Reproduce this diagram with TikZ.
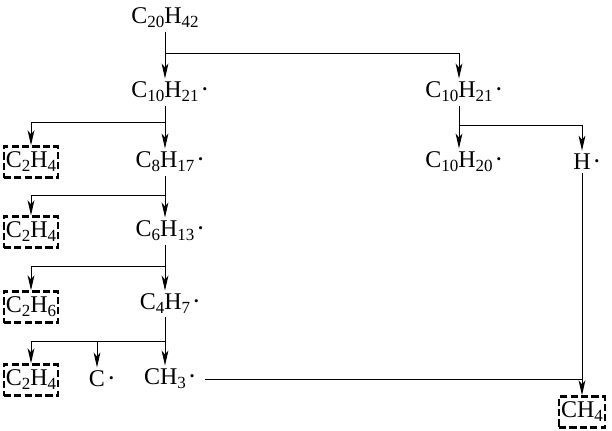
\documentclass[tikz,border=0pt]{standalone}
\usepackage{fontspec}
\setmainfont{Liberation Serif}
\usetikzlibrary{arrows.meta}

\newcommand{\sub}[1]{\raisebox{-2pt}{\fontsize{8.5}{9}\selectfont #1}}
\newcommand{\rad}{\rlap{\hspace{2pt}\raisebox{0.4ex}{\fontsize{6.5}{6}\selectfont\textbullet}}}

\begin{document}
\begin{tikzpicture}[x=0.5pt, y=-0.5pt, line width=0.5pt,
    >={Stealth[length=7.5pt, width=3.4pt, inset=2pt]},
    every node/.style={font=\fontsize{12}{14}\selectfont, inner sep=1.5pt},
    product/.style={draw, line width=1.2pt, dash pattern=on 3.6pt off 1.6pt,
      minimum height=15.5pt, inner xsep=1pt, inner ysep=1.5pt}]
      \useasboundingbox (0, 0) rectangle (612, 430);

      % Molecules
      \node (c20) at (165, 18) {C\sub{20}H\sub{42}};
      \node (c10a) at (165, 92) {C\sub{10}H\sub{21}\rad};
      \node (c8) at (165, 162) {C\sub{8}H\sub{17}\rad};
      \node (c6) at (165, 231) {C\sub{6}H\sub{13}\rad};
      \node (c4) at (165, 304) {C\sub{4}H\sub{7}\rad};
      \node (ch3) at (165, 379) {CH\sub{3}\rad};
      \node (crad) at (97, 379) {C\rad};
      \node (c10b) at (459, 92) {C\sub{10}H\sub{21}\rad};
      \node (c10c) at (459, 162) {C\sub{10}H\sub{20}\rad};
      \node (hrad) at (582, 162) {H\rad};

      % Products
      \node[product] (c2a) at (31, 162) {C\sub{2}H\sub{4}};
      \node[product] (c2b) at (31, 232) {C\sub{2}H\sub{4}};
      \node[product] (c2c) at (31, 307) {C\sub{2}H\sub{6}};
      \node[product] (c2d) at (31, 380) {C\sub{2}H\sub{4}};
      \node[product] (ch4) at (582, 412) {CH\sub{4}};

      % Branch points
      \coordinate (j1) at (165, 53);
      \coordinate (j2) at (165, 122);
      \coordinate (j3) at (165, 195);
      \coordinate (j4) at (165, 266);
      \coordinate (j5) at (165, 341);
      \coordinate (j6) at (459, 125);

      % Main chain
      \draw[->] (c20) -- (c10a);
      \draw[->] (c10a) -- (c8);
      \draw[->] (c8) -- (c6);
      \draw[->] (c6) -- (c4);
      \draw[->] (c4) -- (ch3);

      % Side branches
      \draw[->] (j1) -| (c10b);
      \draw[->] (j2) -| (c2a);
      \draw[->] (j3) -| (c2b);
      \draw[->] (j4) -| (c2c);
      \draw[->] (j5) -| (c2d);
      \draw[->] (crad |- j5) -- (crad);
      \draw[->] (c10b) -- (c10c);
      \draw[->] (j6) -| (hrad);

      % Recombination
      \draw[->] (hrad) -- (ch4);
      \draw ([xshift=8pt]ch3.east) -- (ch3 -| ch4);
\end{tikzpicture}
\end{document}
